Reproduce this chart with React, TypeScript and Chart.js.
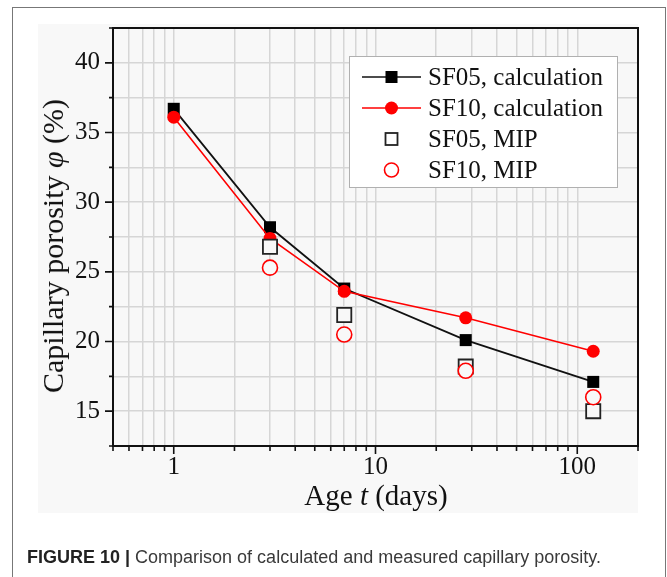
import React, { useEffect, useRef } from "react";
import { Chart, registerables } from "chart.js";

Chart.register(...registerables);

// ---- data ----
const calcAges = [1, 3, 7, 28, 120];
const mipAges = [3, 7, 28, 120];
const sf05Calc = [36.7, 28.2, 23.8, 20.1, 17.1];
const sf10Calc = [36.1, 27.4, 23.6, 21.7, 19.3];
const sf05Mip = [26.8, 21.9, 18.2, 15.0];
const sf10Mip = [25.3, 20.5, 17.9, 16.0];

const xTickValues = [0.5, 0.6, 0.7, 0.8, 0.9, 1, 2, 3, 4, 5, 6, 7, 8, 9, 10, 20, 30, 40, 50, 60, 70, 80, 90, 100, 200];
const xLabelValues = [1, 10, 100];
const yTickValues = [12.5, 15, 17.5, 20, 22.5, 25, 27.5, 30, 32.5, 35, 37.5, 40, 42.5];
const yLabelValues = [15, 20, 25, 30, 35, 40];

const legendLabels = ["SF05, calculation", "SF10, calculation", "SF05, MIP", "SF10, MIP"];

const SERIF = "'Liberation Serif', 'Times New Roman', serif";
const BG = "#f8f8f8";

const framePlugin = {
  id: "frameTicks",
  afterDatasetsDraw(chart: any) {
    const { ctx, chartArea } = chart;
    const xs = chart.scales.x;
    const ys = chart.scales.y;
    ctx.save();
    ctx.strokeStyle = "#111";
    ctx.lineWidth = 1.6;
    ctx.beginPath();
    for (const v of yTickValues) {
      const p = ys.getPixelForValue(v);
      const len = yLabelValues.includes(v) ? 8 : 4;
      ctx.moveTo(chartArea.left - len, p);
      ctx.lineTo(chartArea.left, p);
    }
    for (const v of xTickValues) {
      const p = xs.getPixelForValue(v);
      const len = xLabelValues.includes(v) ? 8 : 5;
      ctx.moveTo(p, chartArea.bottom);
      ctx.lineTo(p, chartArea.bottom + len);
    }
    ctx.stroke();
    ctx.lineWidth = 2;
    ctx.strokeRect(chartArea.left, chartArea.top, chartArea.right - chartArea.left, chartArea.bottom - chartArea.top);
    ctx.restore();
  },
  afterDraw(chart: any) {
    const { ctx, chartArea } = chart;
    const left = chartArea.right - 289;
    const top = chartArea.top + 28;
    const w = 268;
    const h = 131;
    ctx.save();
    ctx.fillStyle = "#ffffff";
    ctx.fillRect(left, top, w, h);
    ctx.strokeStyle = "#b0b0b0";
    ctx.lineWidth = 1;
    ctx.strokeRect(left + 0.5, top + 0.5, w, h);
    const rowH = 31;
    const sx0 = left + 13;
    const sx1 = left + 72;
    const mx = (sx0 + sx1) / 2;
    const tx = left + 79;
    ctx.font = `25px ${SERIF}`;
    ctx.textBaseline = "middle";
    ctx.textAlign = "left";
    legendLabels.forEach((label, i) => {
      const cy = top + 21 + i * rowH;
      if (i === 0 || i === 1) {
        ctx.strokeStyle = i === 0 ? "#111" : "#ff0000";
        ctx.lineWidth = 1.6;
        ctx.beginPath();
        ctx.moveTo(sx0, cy);
        ctx.lineTo(sx1, cy);
        ctx.stroke();
      }
      if (i === 0) {
        ctx.fillStyle = "#000";
        ctx.fillRect(mx - 6, cy - 6, 12, 12);
      } else if (i === 1) {
        ctx.fillStyle = "#ff0000";
        ctx.beginPath();
        ctx.arc(mx, cy, 6.5, 0, Math.PI * 2);
        ctx.fill();
      } else if (i === 2) {
        ctx.strokeStyle = "#222";
        ctx.lineWidth = 1.8;
        ctx.strokeRect(mx - 6, cy - 6, 12, 12);
      } else {
        ctx.strokeStyle = "#ff0000";
        ctx.lineWidth = 1.6;
        ctx.beginPath();
        ctx.arc(mx, cy, 7, 0, Math.PI * 2);
        ctx.stroke();
      }
      ctx.fillStyle = "#111";
      ctx.fillText(label, tx, cy + 1);
    });
    ctx.restore();
  },
};

export default function App() {
  const canvasRef = useRef<HTMLCanvasElement | null>(null);

  useEffect(() => {
    if (!canvasRef.current) return;
    const chart = new Chart(canvasRef.current, {
      type: "line",
      data: {
        datasets: [
          {
            label: legendLabels[0],
            data: calcAges.map((x, i) => ({ x, y: sf05Calc[i] })),
            borderColor: "#111",
            borderWidth: 1.8,
            pointStyle: "rect",
            pointRadius: 8.5,
            pointBackgroundColor: "#000",
            pointBorderWidth: 0,
            order: 4,
          },
          {
            label: legendLabels[1],
            data: calcAges.map((x, i) => ({ x, y: sf10Calc[i] })),
            borderColor: "#ff0000",
            borderWidth: 1.6,
            pointStyle: "circle",
            pointRadius: 6.5,
            pointBackgroundColor: "#ff0000",
            pointBorderWidth: 0,
            order: 3,
          },
          {
            label: legendLabels[2],
            data: mipAges.map((x, i) => ({ x, y: sf05Mip[i] })),
            showLine: false,
            borderColor: "#222",
            pointStyle: "rect",
            pointRadius: 10,
            pointBackgroundColor: BG,
            pointBorderColor: "#222",
            pointBorderWidth: 1.8,
            order: 2,
          },
          {
            label: legendLabels[3],
            data: mipAges.map((x, i) => ({ x, y: sf10Mip[i] })),
            showLine: false,
            borderColor: "#ff0000",
            pointStyle: "circle",
            pointRadius: 7.5,
            pointBackgroundColor: BG,
            pointBorderColor: "#ff0000",
            pointBorderWidth: 1.6,
            order: 1,
          },
        ],
      },
      options: {
        responsive: false,
        animation: false,
        layout: { padding: { top: 24, right: 29, left: 0, bottom: 0 } },
        plugins: { legend: { display: false }, tooltip: { enabled: false } },
        scales: {
          x: {
            type: "logarithmic",
            min: 0.5,
            max: 200,
            afterFit: (s: any) => {
              s.height = 131;
            },
            afterBuildTicks: (s: any) => {
              s.ticks = xTickValues.map((v) => ({ value: v }));
            },
            grid: { color: "#d6d6d6", lineWidth: 1.5, drawTicks: false },
            border: { display: false },
            ticks: {
              autoSkip: false,
              maxRotation: 0,
              padding: 6,
              color: "#111",
              font: { family: SERIF, size: 25 },
              callback: (v: any) => (xLabelValues.includes(Number(v)) ? String(v) : ""),
            },
          },
          y: {
            type: "linear",
            min: 12.5,
            max: 42.5,
            afterFit: (s: any) => {
              s.width = 113;
            },
            afterBuildTicks: (s: any) => {
              s.ticks = yTickValues.map((v) => ({ value: v }));
            },
            grid: { color: "#d6d6d6", lineWidth: 1.5, drawTicks: false },
            border: { display: false },
            ticks: {
              autoSkip: false,
              padding: 13,
              color: "#111",
              font: { family: SERIF, size: 25 },
              callback: (v: any) => (yLabelValues.includes(Number(v)) ? String(v) : ""),
            },
          },
        },
      },
      plugins: [framePlugin],
    });
    return () => chart.destroy();
  }, []);

  return (
    <div
      style={{
        position: "fixed",
        left: 0,
        top: 0,
        width: 667,
        height: 577,
        background: "#ffffff",
        overflow: "hidden",
      }}
    >
      <div
        style={{
          position: "absolute",
          left: 12,
          top: 7,
          width: 654,
          height: 620,
          border: "1.5px solid #777",
          boxSizing: "border-box",
        }}
      />
      <div style={{ position: "absolute", left: 38, top: 24, width: 600, height: 489, background: BG }} />
      <canvas ref={canvasRef} width={667} height={577} style={{ position: "absolute", left: 0, top: 0 }} />
      <div
        style={{
          position: "absolute",
          left: 53,
          top: 246,
          transform: "translate(-50%, -50%) rotate(-90deg)",
          whiteSpace: "nowrap",
          fontFamily: SERIF,
          fontSize: 30,
          color: "#111",
          lineHeight: 1,
        }}
      >
        Capillary porosity <i>φ</i> (%)
      </div>
      <div
        style={{
          position: "absolute",
          left: 376,
          top: 495,
          transform: "translate(-50%, -50%)",
          whiteSpace: "nowrap",
          fontFamily: SERIF,
          fontSize: 29,
          color: "#111",
          lineHeight: 1,
        }}
      >
        Age <i>t</i> (days)
      </div>
      <div
        style={{
          position: "absolute",
          left: 27,
          top: 548,
          whiteSpace: "nowrap",
          fontFamily: "'Liberation Sans', Arial, sans-serif",
          fontSize: 18,
          color: "#3a3a3a",
          lineHeight: 1,
        }}
      >
        <b style={{ color: "#222" }}>FIGURE 10 |</b> Comparison of calculated and measured capillary porosity.
      </div>
    </div>
  );
}
